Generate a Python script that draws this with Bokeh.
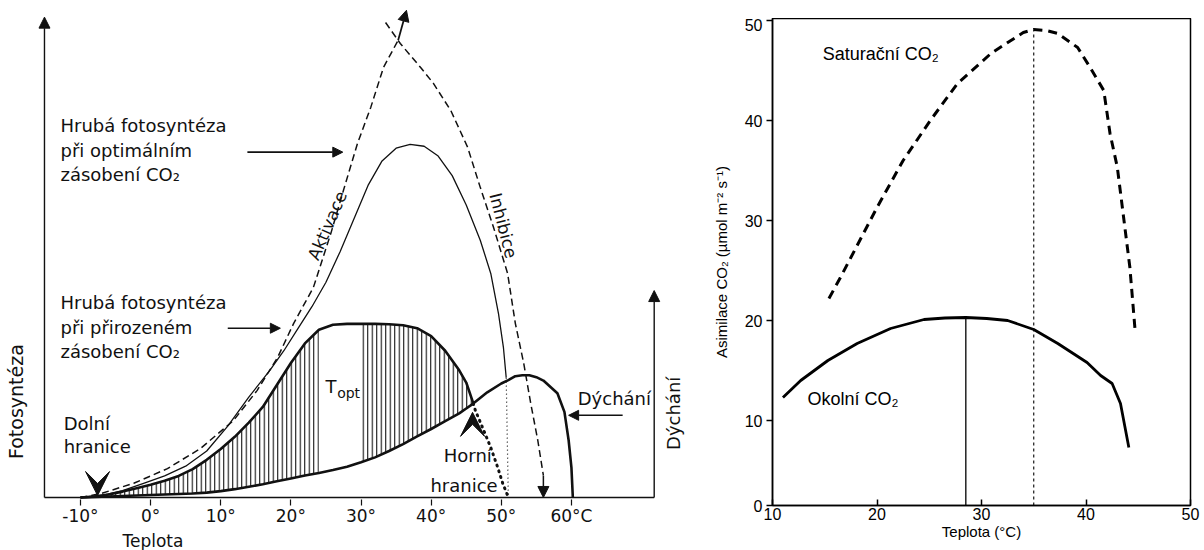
from bokeh.plotting import figure
from bokeh.layouts import row, column, Spacer
from bokeh.models import Range1d, FixedTicker, Arrow, NormalHead, VeeHead, Label, Title
from bokeh.embed import file_html
from bokeh.resources import INLINE

# ================= LEFT PANEL (schematic, relative units) =================
left_ticks = [-10, 0, 10, 20, 30, 40, 50, 60]
left_tick_labels = ["-10°", "0°", "10°", "20°", "30°", "40°", "50°", "60°C"]

# potential (activation) curve, dashed
act_t = [-10, -7.1, -2.4, 2.4, 7.1, 11.8, 15.2, 18.1, 20.4, 23.2, 25.7, 27.5, 29.5, 31.4, 33.2, 35.3]
act_y = [0, 0.8, 2.9, 5.9, 10.0, 15.7, 21.9, 28.6, 35.6, 42.9, 54.0, 62.8, 72.4, 79.8, 87.9, 93.5]
# inhibition curve, dashed
inh_t = [33.5, 35.6, 38.5, 40.3, 42.8, 45.2, 47.0, 48.9, 50.9, 52.0, 53.2, 54.2, 55.2, 56.0]
inh_y = [97.1, 92.8, 87.9, 84.7, 79.1, 71.6, 63.4, 55.2, 45.8, 35.6, 27.4, 19.2, 11.7, 4.5]
# gross photosynthesis at optimal CO2 (thin solid)
opt_t = [-10, -7, -4, -1, 2, 5, 8, 11, 14, 17, 19, 21, 23, 25, 27, 29, 31, 33, 35, 37, 39, 41, 43, 45, 47, 48.5, 49.6, 50.3, 50.7]
opt_y = [0, 0.4, 1.4, 2.9, 4.4, 6.4, 9.5, 14.6, 20.5, 26.0, 30.0, 34.5, 39.0, 44.0, 50.2, 57.0, 63.8, 68.8, 71.4, 72.2, 71.8, 69.8, 65.8, 59.8, 52.6, 45.8, 37.6, 30.7, 24.5]
# common temperature grid for natural-CO2 photosynthesis and respiration
grid_t = [-10, -8, -6, -4, -2, 0, 2, 4, 6, 8, 10, 12, 14, 16, 18, 20, 22, 24, 26, 28, 30, 32, 34, 36, 38, 40, 42, 44, 45, 46]
nat_y = [0, 0.2, 0.6, 1.2, 1.9, 2.6, 3.4, 4.4, 5.8, 7.7, 9.9, 12.4, 15.3, 18.5, 23.0, 27.5, 31.5, 34.3, 35.3, 35.5, 35.5, 35.5, 35.4, 35.2, 34.6, 33.0, 30.0, 26.0, 23.5, 19.3]
resp_y = [0, 0.1, 0.2, 0.3, 0.4, 0.5, 0.6, 0.7, 0.8, 1.0, 1.3, 1.7, 2.2, 2.7, 3.3, 3.9, 4.5, 5.0, 5.6, 6.3, 7.2, 8.2, 9.5, 10.9, 12.5, 14.0, 15.6, 17.2, 18.2, 19.2]
# respiration beyond the grid
resp_ext_t = [46, 48, 50, 51, 52, 53, 54, 55, 56, 58, 59, 59.6, 60, 60.2]
resp_ext_y = [19.2, 21.5, 23.3, 24.0, 24.8, 25.0, 25.0, 24.6, 23.9, 21.3, 17.5, 11.7, 6.1, 0]
# dotted continuation of natural-CO2 curve
nat_tail_t = [46.0, 46.3, 47.5, 48.5, 49.5, 50.2, 50.9]
nat_tail_y = [19.2, 17.8, 13.7, 10.2, 6.1, 2.9, 0.4]
# dotted drop of optimal curve
opt_drop_t = [50.7, 51.0]
opt_drop_y = [24.5, 0]
# T_opt gap in hatching
hatch_low_end = 24
hatch_high_start = 30

FONT_L = "DejaVu Sans"
INK = "#111111"

left = figure(width=688, height=550, x_range=Range1d(-21.4, 76.69), y_range=Range1d(-1.64, 101.6),
              output_backend="svg", toolbar_location=None, y_axis_location=None,
              min_border_left=0, min_border_right=0, min_border_top=0, min_border_bottom=45)
left.grid.visible = False
left.outline_line_color = None
left.background_fill_color = "white"
left.border_fill_color = "white"

xa = left.xaxis[0]
xa.ticker = FixedTicker(ticks=left_ticks)
xa.major_label_overrides = {t: l for t, l in zip(left_ticks, left_tick_labels)}
xa.axis_line_color = None
xa.major_tick_in = 6
xa.major_tick_out = 0
xa.major_tick_line_color = INK
xa.major_tick_line_width = 1.2
xa.minor_tick_line_color = None
xa.major_label_text_font = FONT_L
xa.major_label_text_font_size = "17px"
xa.major_label_text_color = INK
xa.major_label_standoff = 0

left.add_layout(Title(text="Teplota", align="left", offset=122, standoff=0, text_font=FONT_L,
                      text_font_size="17px", text_font_style="normal", text_color=INK), "below")

# hatched area (two parts, gap around T_opt)
i1 = [i for i, t in enumerate(grid_t) if t <= hatch_low_end]
i2 = [i for i, t in enumerate(grid_t) if t >= hatch_high_start]
for idx in (i1, i2):
    left.varea(x=[grid_t[i] for i in idx], y1=[resp_y[i] for i in idx], y2=[nat_y[i] for i in idx],
               fill_alpha=0, hatch_pattern="|", hatch_color=INK, hatch_scale=4.5, hatch_weight=1.1)

# axes drawn as arrows / base line
ax_left_t = -15.13
ax_right_t = 71.8
left.line([ax_left_t, ax_right_t], [0, 0], line_color=INK, line_width=1.6)
left.add_layout(Arrow(end=NormalHead(size=11, fill_color=INK, line_color=INK), x_start=ax_left_t, y_start=0,
                      x_end=ax_left_t, y_end=98.2, line_color=INK, line_width=1.4))
left.add_layout(Arrow(end=NormalHead(size=11, fill_color=INK, line_color=INK), x_start=ax_right_t, y_start=0,
                      x_end=ax_right_t, y_end=42.3, line_color=INK, line_width=1.4))

# curves
left.line(act_t, act_y, line_color=INK, line_width=1.5, line_dash="7 4")
left.line(inh_t, inh_y, line_color=INK, line_width=1.5, line_dash="7 4")
left.line(opt_t, opt_y, line_color=INK, line_width=1.3)
left.line(grid_t, nat_y, line_color=INK, line_width=2.6)
left.line(grid_t, resp_y, line_color=INK, line_width=2.6)
left.line(resp_ext_t, resp_ext_y, line_color=INK, line_width=2.6)
left.line(nat_tail_t, nat_tail_y, line_color=INK, line_width=3, line_dash="1 5", line_cap="round")
left.line(opt_drop_t, opt_drop_y, line_color=INK, line_width=1.2, line_dash="1 3")

# arrows at curve ends
left.add_layout(Arrow(end=NormalHead(size=11, fill_color=INK, line_color=INK), x_start=act_t[-1], y_start=act_y[-1],
                      x_end=36.48, y_end=99.6, line_color=INK, line_width=1.8))
left.add_layout(Arrow(end=NormalHead(size=11, fill_color=INK, line_color=INK), x_start=inh_t[-1], y_start=inh_y[-1],
                      x_end=56.0, y_end=0.0, line_color=INK, line_width=1.5))
# pointer arrows
for xs, xe, yy in [(13.8, 27.4, 70.6), (11.0, 18.5, 34.6), (67.3, 59.6, 16.8)]:
    left.add_layout(Arrow(end=NormalHead(size=10, fill_color=INK, line_color=INK), x_start=xs, y_start=yy,
                          x_end=xe, y_end=yy, line_color=INK, line_width=1.6))
# limit markers
left.add_layout(Arrow(end=VeeHead(size=24, fill_color=INK, line_color=INK), x_start=-7.56, y_start=7,
                      x_end=-7.56, y_end=0.4, line_color=None))
left.add_layout(Arrow(end=VeeHead(size=24, fill_color=INK, line_color=INK), x_start=45.9, y_start=9,
                      x_end=45.9, y_end=17.4, line_color=None))

def ltxt(x, y, s, size="18px", align="left", angle=0):
    left.add_layout(Label(x=x, y=y, text=s, text_font=FONT_L, text_font_size=size, text_color=INK,
                          text_align=align, text_baseline="middle", angle=angle, angle_units="deg"))

ltxt(-12.85, 76.1, "Hrubá fotosyntéza")
ltxt(-12.85, 71.0, "při optimálním")
ltxt(-12.85, 66.1, "zásobení CO₂")
ltxt(-12.85, 39.9, "Hrubá fotosyntéza")
ltxt(-12.85, 34.8, "při přirozeném")
ltxt(-12.85, 29.9, "zásobení CO₂")
ltxt(-12.4, 15.1, "Dolní")
ltxt(-12.4, 10.4, "hranice")
ltxt(41.8, 8.6, "Horní")
ltxt(39.9, 2.5, "hranice")
ltxt(60.9, 20.2, "Dýchání")
ltxt(24.94, 22.7, "T")
ltxt(26.6, 21.3, "opt", size="14px")
ltxt(25.2, 55.6, "Aktivace", size="17px", align="center", angle=66.6)
ltxt(50.3, 55.6, "Inhibice", size="17px", align="center", angle=-75.6)
ltxt(-19.26, 19.6, "Fotosyntéza", size="19px", align="center", angle=90)
ltxt(74.55, 17.2, "Dýchání", size="18px", align="center", angle=90)

# ================= RIGHT PANEL =================
right_x_ticks = [10, 20, 30, 40, 50]
right_y_ticks = [0, 10, 20, 30, 40, 50]
y_floor = 1.5  # axis bottom; the "0" label sits there in the original

sat_t = [15.4, 16.5, 18.3, 20.0, 22.5, 25.1, 27.7, 30.9, 34.0, 35.0, 36.2, 37.3, 39.2, 40.4, 41.7, 42.3, 43.0, 43.6, 44.2, 44.7]
sat_y = [22.2, 24.3, 27.9, 31.3, 36.0, 40.0, 43.7, 46.7, 48.8, 49.1, 49.0, 48.7, 47.3, 45.3, 43.0, 38.7, 35.3, 30.3, 25.3, 19.0]
amb_t = [11.0, 12.7, 15.3, 18.1, 21.3, 24.5, 26.5, 28.5, 30.5, 32.5, 35.0, 37.3, 40.1, 41.4, 42.5, 43.3, 44.1]
amb_y = [12.3, 14.0, 16.0, 17.7, 19.2, 20.1, 20.25, 20.3, 20.2, 20.0, 19.1, 17.7, 15.8, 14.5, 13.7, 11.7, 7.3]

FONT_R = "Liberation Sans"

right = figure(width=516, height=532, x_range=Range1d(10, 50), y_range=Range1d(y_floor, 50.2),
               output_backend="svg", toolbar_location=None,
               min_border_left=84, min_border_right=14, min_border_top=0, min_border_bottom=45)
right.grid.visible = False
right.outline_line_color = "black"
right.outline_line_width = 1.5
right.outline_line_alpha = 1.0
right.background_fill_color = "white"
right.border_fill_color = "white"

rx = right.xaxis[0]
rx.ticker = FixedTicker(ticks=right_x_ticks)
rx.major_tick_in = 6
rx.major_tick_out = 0
rx.minor_tick_line_color = None
rx.axis_line_width = 1.5
rx.major_tick_line_width = 1.5
rx.major_label_text_font = FONT_R
rx.major_label_text_font_size = "16px"
rx.major_label_text_color = "black"
rx.major_label_standoff = 2
rx.axis_label = "Teplota (°C)"
rx.axis_label_text_font = FONT_R
rx.axis_label_text_font_size = "15px"
rx.axis_label_text_font_style = "normal"
rx.axis_label_text_color = "black"
rx.axis_label_standoff = 0

ry = right.yaxis[0]
ry.ticker = FixedTicker(ticks=[y_floor] + right_y_ticks[1:])
ry.major_label_overrides = {y_floor: str(right_y_ticks[0])}
ry.major_tick_in = 0
ry.major_tick_out = 6
ry.minor_tick_line_color = None
ry.axis_line_width = 1.5
ry.major_tick_line_width = 1.5
ry.major_label_text_font = FONT_R
ry.major_label_text_font_size = "16px"
ry.major_label_text_color = "black"
ry.major_label_standoff = 4
ry.axis_label = "Asimilace CO₂ (µmol m⁻² s⁻¹)"
ry.axis_label_text_font = FONT_R
ry.axis_label_text_font_size = "15px"
ry.axis_label_text_font_style = "normal"
ry.axis_label_text_color = "black"
ry.axis_label_standoff = 12

# optimum markers
amb_peak = amb_y.index(max(amb_y))
sat_peak = sat_y.index(max(sat_y))
right.line([amb_t[amb_peak]] * 2, [y_floor, amb_y[amb_peak]], line_color="black", line_width=1.3)
right.line([sat_t[sat_peak]] * 2, [y_floor, sat_y[sat_peak]], line_color="black", line_width=1.1, line_dash="3 3")

right.line(sat_t, sat_y, line_color="black", line_width=3, line_dash="9 6")
right.line(amb_t, amb_y, line_color="black", line_width=2.8)

right.add_layout(Label(x=14.8, y=46.7, text="Saturační CO₂", text_font=FONT_R, text_font_size="18px",
                       text_baseline="middle", text_color="black"))
right.add_layout(Label(x=13.35, y=12.2, text="Okolní CO₂", text_font=FONT_R, text_font_size="18px",
                       text_baseline="middle", text_color="black"))

page = row(left, column(Spacer(width=516, height=18), right))
open("out.html", "w").write(file_html(page, INLINE))
